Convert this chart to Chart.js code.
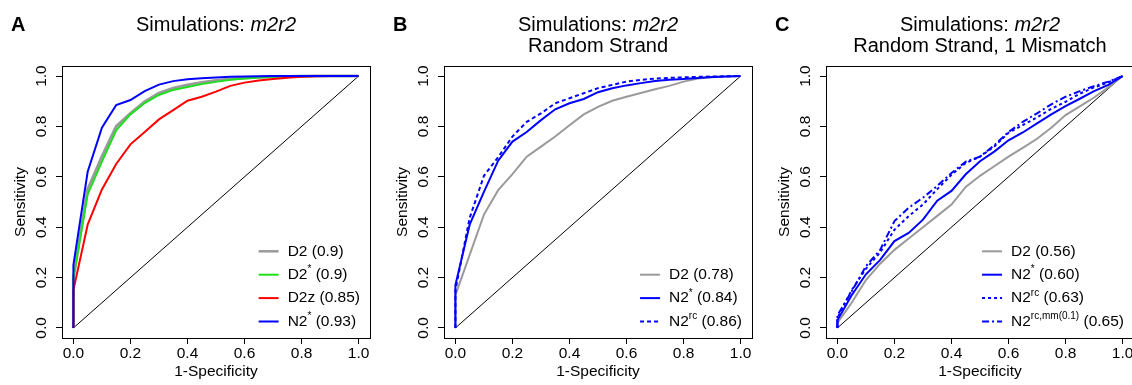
<!DOCTYPE html>
<html lang="en">
<head>
<meta charset="UTF-8" />
<title>Simulations m2r2 - ROC</title>
<script src="https://cdn.jsdelivr.net/npm/chart.js@4"></script>
<style>
  body { margin: 0; overflow: hidden; background: #fff; }
  #wrap { position: relative; width: 1132px; height: 385px; overflow: hidden; }
  canvas { position: absolute; top: 0; }
</style>
</head>
<body>
<div id="wrap">
  <canvas id="chartA" width="382" height="385" style="left:0px"></canvas>
  <canvas id="chartB" width="382" height="385" style="left:382px"></canvas>
  <canvas id="chartC" width="382" height="385" style="left:764px"></canvas>
</div>
<script>
// false positive rate (1-Specificity), shared by every curve
const fpr = [0, 0, 0.05, 0.1, 0.15, 0.2, 0.25, 0.3, 0.35, 0.4, 0.45, 0.5, 0.55, 0.6, 0.65, 0.7, 0.75, 0.8, 0.85, 0.9, 0.95, 1];
const tickValues = [0, 0.2, 0.4, 0.6, 0.8, 1];

// panel A: Simulations m2r2
const aD2     = [0, 0.2, 0.55, 0.68, 0.8, 0.852, 0.898, 0.932, 0.952, 0.965, 0.975, 0.982, 0.988, 0.992, 0.995, 0.997, 0.998, 0.999, 1, 1, 1, 1];
const aD2star = [0, 0.2, 0.53, 0.66, 0.785, 0.848, 0.893, 0.925, 0.945, 0.957, 0.968, 0.977, 0.985, 0.99, 0.994, 0.997, 0.998, 0.999, 1, 1, 1, 1];
const aD2z    = [0, 0.15, 0.41, 0.55, 0.651, 0.729, 0.778, 0.828, 0.865, 0.902, 0.918, 0.938, 0.961, 0.974, 0.982, 0.988, 0.993, 0.997, 0.999, 1, 1, 1];
const aN2star = [0, 0.25, 0.62, 0.795, 0.885, 0.905, 0.94, 0.966, 0.98, 0.987, 0.991, 0.994, 0.997, 0.998, 0.999, 1, 1, 1, 1, 1, 1, 1];

// panel B: random strand
const bD2     = [0, 0.13, 0.29, 0.45, 0.547, 0.611, 0.68, 0.72, 0.76, 0.805, 0.848, 0.878, 0.902, 0.918, 0.933, 0.948, 0.961, 0.978, 0.99, 0.995, 0.998, 1];
const bN2star = [0, 0.17, 0.41, 0.54, 0.664, 0.74, 0.778, 0.825, 0.868, 0.892, 0.909, 0.936, 0.952, 0.963, 0.972, 0.98, 0.985, 0.988, 0.992, 0.996, 0.998, 1];
const bN2rc   = [0, 0.15, 0.437, 0.604, 0.678, 0.76, 0.818, 0.852, 0.892, 0.912, 0.932, 0.952, 0.965, 0.978, 0.985, 0.99, 0.993, 0.995, 0.997, 0.998, 0.999, 1];

// panel C: random strand, 1 mismatch
const cD2     = [0, 0.02, 0.1, 0.19, 0.255, 0.31, 0.355, 0.4, 0.445, 0.49, 0.56, 0.604, 0.642, 0.68, 0.715, 0.751, 0.795, 0.845, 0.88, 0.915, 0.955, 1];
const cN2star = [0, 0.03, 0.13, 0.213, 0.27, 0.345, 0.377, 0.43, 0.505, 0.544, 0.61, 0.662, 0.7, 0.745, 0.776, 0.812, 0.848, 0.881, 0.91, 0.94, 0.965, 1];
const cN2rc   = [0, 0.04, 0.15, 0.235, 0.3, 0.39, 0.444, 0.49, 0.551, 0.608, 0.655, 0.68, 0.72, 0.775, 0.805, 0.836, 0.87, 0.898, 0.93, 0.955, 0.975, 1];
const cN2mm   = [0, 0.05, 0.145, 0.245, 0.31, 0.424, 0.477, 0.517, 0.564, 0.615, 0.66, 0.68, 0.725, 0.778, 0.818, 0.852, 0.888, 0.918, 0.94, 0.96, 0.978, 1];

// legend texts (name, superscript, AUC)
const namesA = ['D2', 'D2', 'D2z', 'N2'];
const supsA  = ['', '*', '', '*'];
const aucA   = ['0.9', '0.9', '0.85', '0.93'];
const namesB = ['D2', 'N2', 'N2'];
const supsB  = ['', '*', 'rc'];
const aucB   = ['0.78', '0.84', '0.86'];
const namesC = ['D2', 'N2', 'N2', 'N2'];
const supsC  = ['', '*', 'rc', 'rc,mm(0.1)'];
const aucC   = ['0.56', '0.60', '0.63', '0.65'];

const titleMain = 'Simulations: ';
const titleItalic = 'm2r2';
const subB = 'Random Strand';
const subC = 'Random Strand, 1 Mismatch';

const FAMILY = "'Liberation Sans', Arial, sans-serif";
Chart.defaults.font.family = FAMILY;
Chart.defaults.color = '#000';

const GRAY = '#9a9a9a', GREEN = '#1ee01e', RED = '#ff0000', BLUE = '#0000ff';

function legendWidth(ctx, e) {
  ctx.font = '15.5px ' + FAMILY;
  let w = ctx.measureText(e.name).width + ctx.measureText(' (' + e.auc + ')').width;
  ctx.font = '10px ' + FAMILY;
  w += e.sup ? ctx.measureText(e.sup).width : 0;
  return w;
}

const decor = {
  id: 'decor',
  afterDatasetsDraw(chart, args, opts) {
    const { ctx, chartArea: a } = chart;
    ctx.save();
    ctx.strokeStyle = '#000';
    ctx.lineWidth = 1;
    ctx.setLineDash([]);
    ctx.strokeRect(Math.round(a.left) + 0.5, Math.round(a.top) + 0.5, Math.round(a.width), Math.round(a.height));

    // legend, bottom right, no box
    const entries = opts.entries;
    const maxW = Math.max(...entries.map(e => legendWidth(ctx, e)));
    const textX = a.right - 10 - maxW;
    const gap = 23.4;
    entries.forEach((e, i) => {
      const y = a.bottom - 16.5 - (entries.length - 1 - i) * gap;
      ctx.strokeStyle = e.color;
      ctx.lineWidth = Math.min(e.width, 2.5);
      ctx.setLineDash(e.dash || []);
      ctx.beginPath();
      ctx.moveTo(textX - 29, y);
      ctx.lineTo(textX - 9, y);
      ctx.stroke();
      ctx.setLineDash([]);
      ctx.fillStyle = '#000';
      ctx.textBaseline = 'middle';
      ctx.textAlign = 'left';
      ctx.font = '15.5px ' + FAMILY;
      let x = textX;
      ctx.fillText(e.name, x, y);
      x += ctx.measureText(e.name).width;
      if (e.sup) {
        ctx.font = '10px ' + FAMILY;
        ctx.fillText(e.sup, x, y - 5);
        x += ctx.measureText(e.sup).width;
        ctx.font = '15.5px ' + FAMILY;
      }
      ctx.fillText(' (' + e.auc + ')', x, y);
    });
    ctx.restore();
  },
  afterDraw(chart, args, opts) {
    const { ctx, chartArea: a } = chart;
    ctx.save();
    ctx.fillStyle = '#000';
    ctx.textBaseline = 'alphabetic';
    // panel letter
    ctx.font = 'bold 20px ' + FAMILY;
    ctx.textAlign = 'left';
    ctx.fillText(opts.letter, 11, 31);
    // title with italic part
    const cx = (a.left + a.right) / 2;
    ctx.font = '20px ' + FAMILY;
    const w1 = ctx.measureText(titleMain).width;
    ctx.font = 'italic 20px ' + FAMILY;
    const w2 = ctx.measureText(titleItalic).width;
    const x0 = cx - (w1 + w2) / 2;
    ctx.font = '20px ' + FAMILY;
    ctx.fillText(titleMain, x0, a.top - 35);
    ctx.font = 'italic 20px ' + FAMILY;
    ctx.fillText(titleItalic, x0 + w1, a.top - 35);
    if (opts.sub) {
      ctx.font = '20px ' + FAMILY;
      ctx.textAlign = 'center';
      ctx.fillText(opts.sub, cx, a.top - 14);
    }
    ctx.restore();
  }
};

function axis(title, isY) {
  return {
    type: 'linear',
    min: -0.04,
    max: 1.04,
    afterBuildTicks: ax => { ax.ticks = tickValues.map(v => ({ value: v })); },
    afterFit: ax => { if (isY) ax.width = 62; else ax.height = 47; },
    grid: { drawOnChartArea: false, tickLength: 6, tickColor: '#000', color: '#000' },
    border: { display: false },
    ticks: {
      color: '#000',
      font: { size: 15.5 },
      padding: isY ? 4 : 10,
      minRotation: isY ? 90 : 0,
      maxRotation: isY ? 90 : 0,
      crossAlign: 'center',
      callback: v => v.toFixed(1)
    },
    title: {
      display: true,
      text: title,
      color: '#000',
      font: { size: 15.5 },
      padding: isY ? { top: 11, bottom: 0 } : { top: 0, bottom: 3.5 }
    }
  };
}

function makePanel(id, letter, sub, series) {
  const datasets = [{
    data: [{ x: 0, y: 0 }, { x: 1, y: 1 }],
    borderColor: '#000',
    borderWidth: 1,
    order: 100
  }];
  series.forEach((s, i) => {
    datasets.push({
      data: fpr.map((x, k) => ({ x: x, y: s.values[k] })),
      borderColor: s.color,
      borderWidth: s.width,
      borderDash: s.dash || [],
      order: 50 - i
    });
  });
  new Chart(document.getElementById(id), {
    type: 'line',
    data: { datasets: datasets },
    options: {
      responsive: false,
      animation: false,
      elements: { point: { radius: 0 }, line: { tension: 0, borderCapStyle: 'butt' } },
      layout: { autoPadding: false, padding: { top: 66, right: 12, bottom: 0, left: 0 } },
      scales: { x: axis('1-Specificity', false), y: axis('Sensitivity', true) },
      plugins: {
        legend: { display: false },
        tooltip: { enabled: false },
        decor: {
          letter: letter,
          sub: sub,
          entries: series.map(s => ({ name: s.name, sup: s.sup, auc: s.auc, color: s.color, width: s.width, dash: s.dash }))
        }
      }
    },
    plugins: [decor]
  });
}

makePanel('chartA', 'A', null, [
  { values: aD2, color: GRAY, width: 3, name: namesA[0], sup: supsA[0], auc: aucA[0] },
  { values: aD2star, color: GREEN, width: 2, name: namesA[1], sup: supsA[1], auc: aucA[1] },
  { values: aD2z, color: RED, width: 2, name: namesA[2], sup: supsA[2], auc: aucA[2] },
  { values: aN2star, color: BLUE, width: 2, name: namesA[3], sup: supsA[3], auc: aucA[3] }
]);

makePanel('chartB', 'B', subB, [
  { values: bD2, color: GRAY, width: 2, name: namesB[0], sup: supsB[0], auc: aucB[0] },
  { values: bN2star, color: BLUE, width: 2, name: namesB[1], sup: supsB[1], auc: aucB[1] },
  { values: bN2rc, color: BLUE, width: 2, dash: [4, 3], name: namesB[2], sup: supsB[2], auc: aucB[2] }
]);

makePanel('chartC', 'C', subC, [
  { values: cD2, color: GRAY, width: 2, name: namesC[0], sup: supsC[0], auc: aucC[0] },
  { values: cN2star, color: BLUE, width: 2, name: namesC[1], sup: supsC[1], auc: aucC[1] },
  { values: cN2rc, color: BLUE, width: 2, dash: [3, 3], name: namesC[2], sup: supsC[2], auc: aucC[2] },
  { values: cN2mm, color: BLUE, width: 2, dash: [7, 3, 2, 3], name: namesC[3], sup: supsC[3], auc: aucC[3] }
]);
</script>
</body>
</html>
